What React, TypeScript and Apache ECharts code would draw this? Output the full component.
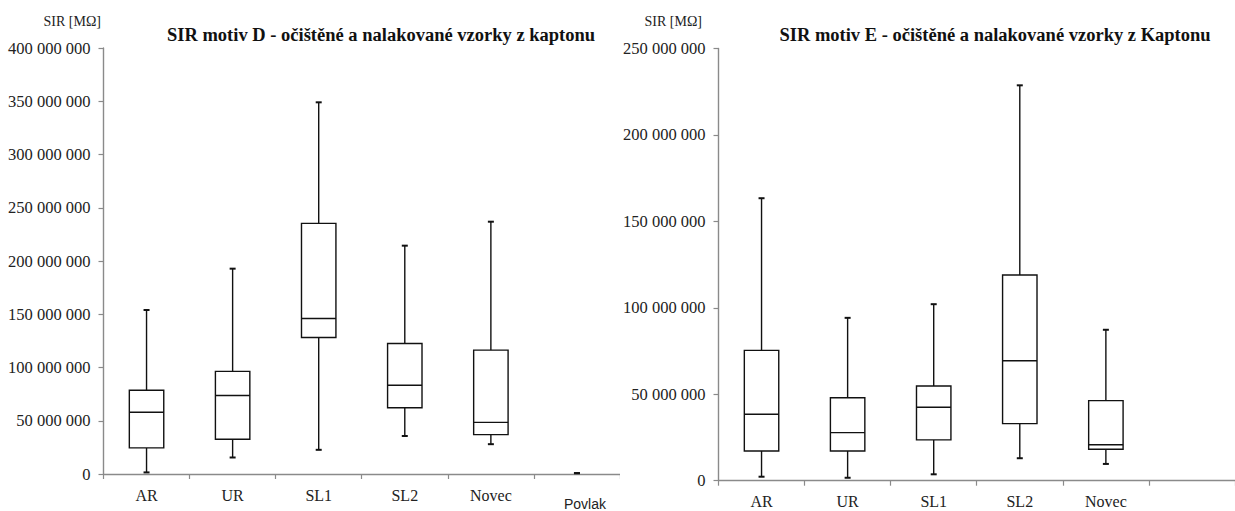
import React, { useEffect, useRef } from "react";
import * as echarts from "echarts";

// Values in MΩ (millions shown on axis as full numbers)
const catsD = ["AR", "UR", "SL1", "SL2", "Novec", "Povlak"];
const minD = [1.5, 15.5, 22.7, 35.7, 28, 0.8];
const q1D = [24.5, 32.6, 128.1, 62.2, 37, 0.8];
const medD = [58, 73.7, 146, 83.3, 48.5, 0.8];
const q3D = [78.6, 96.4, 235.3, 122.5, 116.3, 0.8];
const maxD = [154, 192.8, 349, 214.4, 236.9, 0.8];

const catsE = ["AR", "UR", "SL1", "SL2", "Novec", ""];
const minE = [2.3, 1.7, 3.7, 13, 9.7];
const q1E = [17.2, 17.2, 23.6, 33, 18.2];
const medE = [38.4, 27.8, 42.5, 69.4, 20.8];
const q3E = [75.4, 48, 54.8, 119, 46.3];
const maxE = [163.4, 94.2, 102.1, 228.7, 87.3];

const titleD = "SIR motiv D - očištěné a nalakované vzorky z kaptonu";
const titleE = "SIR motiv E - očištěné a nalakované vzorky z Kaptonu";
const unitLabel = "SIR [MΩ]";

const SCALE = 1e6;
const SERIF = "'Liberation Serif', 'Times New Roman', serif";
const SANS = "'Liberation Sans', Arial, sans-serif";
const AXIS_GRAY = "#8a8a8a";
const INK = "#111";

function fmt(v: number) {
  return Math.round(v).toString().replace(/\B(?=(\d{3})+(?!\d))/g, " ");
}

function buildData(mins: number[], q1: number[], med: number[], q3: number[], max: number[]) {
  return mins.map((m, i) => [i, m * SCALE, q1[i] * SCALE, med[i] * SCALE, q3[i] * SCALE, max[i] * SCALE]);
}

function renderBox(params: any, api: any) {
  const x = api.value(0);
  const pMin = api.coord([x, api.value(1)]);
  const pQ1 = api.coord([x, api.value(2)]);
  const pMed = api.coord([x, api.value(3)]);
  const pQ3 = api.coord([x, api.value(4)]);
  const pMax = api.coord([x, api.value(5)]);
  const bw = api.size([1, 0])[0] * 0.4;
  const cx = pMin[0];
  const cap = 3;
  const ls = { stroke: INK, lineWidth: 1.4, fill: "none" };
  const children: any[] = [
    { type: "line", shape: { x1: cx, y1: pQ3[1], x2: cx, y2: pMax[1] }, style: ls },
    { type: "line", shape: { x1: cx, y1: pMin[1], x2: cx, y2: pQ1[1] }, style: ls },
    { type: "line", shape: { x1: cx - cap, y1: pMax[1], x2: cx + cap, y2: pMax[1] }, style: { stroke: INK, lineWidth: 2 } },
    { type: "line", shape: { x1: cx - cap, y1: pMin[1], x2: cx + cap, y2: pMin[1] }, style: { stroke: INK, lineWidth: 2 } },
  ];
  if (Math.abs(pQ1[1] - pQ3[1]) > 0.5) {
    children.push({
      type: "rect",
      shape: { x: cx - bw / 2, y: pQ3[1], width: bw, height: pQ1[1] - pQ3[1] },
      style: { stroke: INK, lineWidth: 1.4, fill: "#fff" },
    });
    children.push({
      type: "line",
      shape: { x1: cx - bw / 2, y1: pMed[1], x2: cx + bw / 2, y2: pMed[1] },
      style: { stroke: INK, lineWidth: 1.4 },
    });
  }
  return { type: "group", children };
}

function makeOption(opts: {
  cats: any[];
  data: number[][];
  yMax: number;
  grid: { left: number; top: number; width: number; height: number };
  title: string;
  titleX: number;
  unitRight: number;
}) {
  return {
    animation: false,
    backgroundColor: "#fff",
    grid: opts.grid,
    xAxis: {
      type: "category",
      data: opts.cats,
      boundaryGap: true,
      axisLine: { show: true, lineStyle: { color: AXIS_GRAY, width: 1.4 } },
      axisTick: { show: true, length: 5, lineStyle: { color: AXIS_GRAY, width: 1.2 } },
      axisLabel: { color: "#222", fontFamily: SERIF, fontSize: 16, margin: 13 },
      splitLine: { show: false },
    },
    yAxis: {
      type: "value",
      min: 0,
      max: opts.yMax * SCALE,
      interval: 50 * SCALE,
      axisLine: { show: true, lineStyle: { color: AXIS_GRAY, width: 1.4 } },
      axisTick: { show: true, length: 5, lineStyle: { color: AXIS_GRAY, width: 1.2 } },
      axisLabel: { color: "#222", fontFamily: SERIF, fontSize: 16.5, margin: 13, formatter: (v: number) => fmt(v) },
      splitLine: { show: false },
    },
    graphic: [
      {
        type: "text",
        x: opts.titleX,
        y: 35,
        style: {
          text: opts.title,
          font: `bold 18.5px ${SERIF}`,
          fill: "#111",
          textAlign: "center",
          textVerticalAlign: "middle",
        },
      },
      {
        type: "text",
        x: opts.unitRight,
        y: 21,
        style: {
          text: unitLabel,
          font: `14px ${SERIF}`,
          fill: "#222",
          textAlign: "right",
          textVerticalAlign: "middle",
        },
      },
    ],
    series: [
      {
        type: "custom",
        renderItem: renderBox,
        data: opts.data,
        encode: { x: 0, y: [1, 2, 3, 4, 5] },
        clip: false,
      },
    ],
  };
}

export default function App() {
  const leftRef = useRef<HTMLDivElement>(null);
  const rightRef = useRef<HTMLDivElement>(null);

  useEffect(() => {
    document.body.style.margin = "0";
    const left = echarts.init(leftRef.current!, undefined, { renderer: "svg" });
    const right = echarts.init(rightRef.current!, undefined, { renderer: "svg" });

    const catsDObj = catsD.map((c) =>
      c === "Povlak"
        ? { value: c, textStyle: { fontFamily: SANS, fontSize: 14, padding: [10, 0, 0, 16] } }
        : c
    );

    left.setOption(
      makeOption({
        cats: catsDObj,
        data: buildData(minD, q1D, medD, q3D, maxD),
        yMax: 400,
        grid: { left: 103.5, top: 48, width: 533.4, height: 427 },
        title: titleD,
        titleX: 381,
        unitRight: 101,
      })
    );
    right.setOption(
      makeOption({
        cats: catsE,
        data: buildData(minE, q1E, medE, q3E, maxE),
        yMax: 250,
        grid: { left: 93.5, top: 48.5, width: 531.6, height: 432.2 },
        title: titleE,
        titleX: 375,
        unitRight: 82,
      })
    );
    return () => {
      left.dispose();
      right.dispose();
    };
  }, []);

  return (
    <div style={{ position: "absolute", left: 0, top: 0, width: 1235, height: 511, background: "#fff" }}>
      <div ref={leftRef} style={{ position: "absolute", left: 0, top: 0, width: 620, height: 511, overflow: "hidden" }} />
      <div ref={rightRef} style={{ position: "absolute", left: 620, top: 0, width: 615, height: 511, overflow: "hidden" }} />
    </div>
  );
}
